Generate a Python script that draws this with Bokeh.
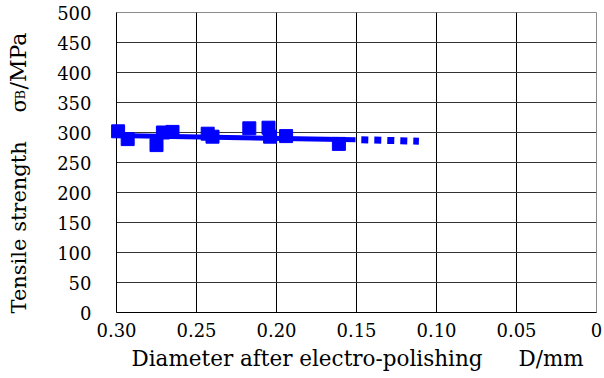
import math
from bokeh.plotting import figure
from bokeh.models import Range1d, FixedTicker
from bokeh.core.properties import value
from bokeh.embed import file_html
from bokeh.resources import INLINE

# ---- data ----
diameter = [0.299, 0.293, 0.275, 0.271, 0.265, 0.243, 0.240, 0.217, 0.205, 0.204, 0.194, 0.161]
strength = [302, 289, 279, 300, 301, 298, 293, 307, 308, 293, 294, 281]

trend_d = [0.300, 0.1506]
trend_s = [295, 288]
ext_d = [0.147, 0.111]
ext_s = [288, 285.5]

x_ticks = [0.30, 0.25, 0.20, 0.15, 0.10, 0.05, 0.0]
x_tick_labels = ["0.30", "0.25", "0.20", "0.15", "0.10", "0.05", "0"]
y_ticks = [0, 50, 100, 150, 200, 250, 300, 350, 400, 450, 500]
y_tick_labels = [str(v) for v in y_ticks]

x_title_main = "Diameter after electro-polishing"
x_title_unit = "D/mm"
y_title_main = "Tensile strength"
y_title_sym = "σ"
y_title_sub = "B"
y_title_unit = "/MPa"

FONT = "DejaVu Serif"
BLUE = "#0000FF"

p = figure(width=604, height=378, x_range=Range1d(0.30, 0.0), y_range=Range1d(0, 500),
           output_backend="svg", toolbar_location=None,
           min_border_left=116, min_border_right=8, min_border_top=12, min_border_bottom=66)
p.background_fill_color = "white"
p.border_fill_color = "white"
p.outline_line_color = "#8c8c8c"
p.outline_line_width = 1

# axes
p.xaxis.ticker = FixedTicker(ticks=x_ticks)
p.xaxis.major_label_overrides = {t: l for t, l in zip(x_ticks, x_tick_labels)}
p.yaxis.ticker = FixedTicker(ticks=y_ticks)
p.yaxis.major_label_overrides = {t: l for t, l in zip(y_ticks, y_tick_labels)}
for ax in (p.xaxis[0], p.yaxis[0]):
    ax.major_tick_out = 0
    ax.major_tick_in = 0
    ax.minor_tick_out = 0
    ax.minor_tick_in = 0
    ax.axis_line_color = "black"
    ax.axis_line_width = 1
    ax.major_label_text_font = FONT
    ax.major_label_text_font_size = "18px"
    ax.major_label_text_color = "black"
p.xaxis.major_label_standoff = 10
p.yaxis.major_label_standoff = 25

# grid (interior lines only; frame drawn by outline/axes)
p.xgrid.ticker = FixedTicker(ticks=x_ticks[1:-1])
p.ygrid.ticker = FixedTicker(ticks=y_ticks[1:-1])
p.xgrid.grid_line_color = "#000000"
p.ygrid.grid_line_color = "#333333"
p.xgrid.grid_line_width = 1
p.ygrid.grid_line_width = 1

# trend lines
p.line(trend_d, trend_s, line_width=5, line_color=BLUE)
p.line(ext_d, ext_s, line_width=7, line_color=BLUE, line_dash="7 6", line_cap="butt")

# markers
p.scatter(diameter, strength, marker="square", size=13, fill_color=BLUE, line_color=BLUE,
          level="overlay")

# helpers to convert screen pixel positions (from the layout) to data coordinates
def dx(sx):
    return 0.30 + (116 - sx) / 1600.0

def dy(sy):
    return (312 - sy) / 0.6

def add_text(sx, sy, text, size, angle=0.0):
    p.text(x=[dx(sx)], y=[dy(sy)], text=[text], angle=angle,
           text_font=value(FONT), text_font_size=value(size),
           text_align="left", text_baseline="alphabetic", text_color="#000000",
           level="overlay")

# x-axis title
add_text(131, 358, x_title_main, "21.5px")
add_text(518, 358, x_title_unit, "21.5px")

# y-axis title (rotated, with subscript)
rot = math.pi / 2
add_text(18, 313, y_title_main, "21px", rot)
add_text(18, 112, y_title_sym, "21px", rot)
add_text(20, 99, y_title_sub, "13px", rot)
add_text(18, 89, y_title_unit, "22px", rot)

open("out.html", "w").write(file_html(p, INLINE))
